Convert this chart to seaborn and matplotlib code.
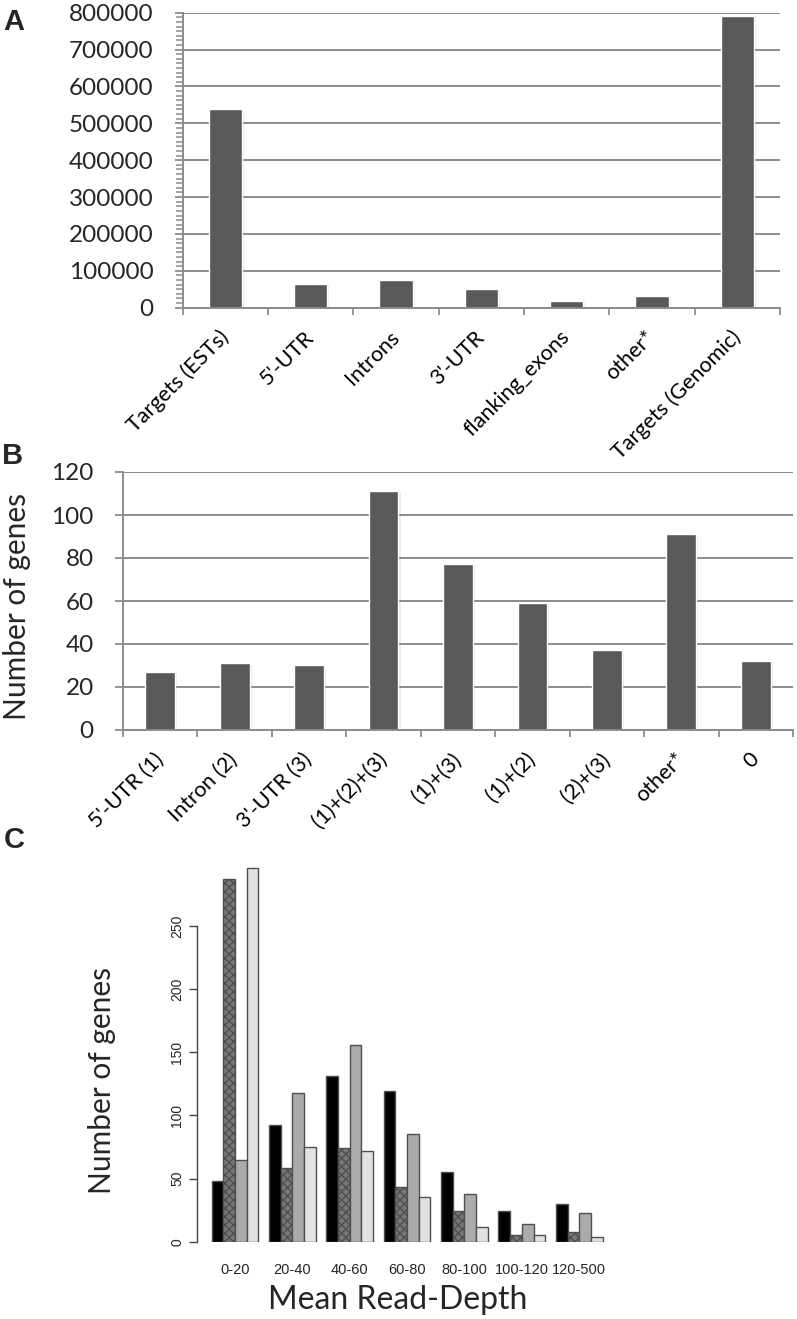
import matplotlib
matplotlib.use("Agg")
import matplotlib.pyplot as plt
import matplotlib.patheffects as pe
from matplotlib.ticker import AutoMinorLocator, FixedLocator
from matplotlib.transforms import ScaledTranslation
import pandas as pd
import seaborn as sns

# panel A: reads mapped per region
regions_a = ["Targets (ESTs)", "5'-UTR", "Introns", "3'-UTR", "flanking_exons", "other*", "Targets (Genomic)"]
reads_a = [538000, 65000, 74000, 51000, 19000, 33000, 791000]

# panel B: genes by covered region combination
combos_b = ["5'-UTR (1)", "Intron (2)", "3'-UTR (3)", "(1)+(2)+(3)", "(1)+(3)", "(1)+(2)", "(2)+(3)", "other*", "0"]
genes_b = [27, 31, 30, 111, 77, 59, 37, 91, 32]

# panel C: genes per mean read-depth bin, four series
depth_bins = ["0-20", "20-40", "40-60", "60-80", "80-100", "100-120", "120-500"]
series_names = ["series 1", "series 2", "series 3", "series 4"]
series_1 = [48, 92, 131, 119, 55, 24, 30]
series_2 = [287, 58, 74, 43, 24, 5, 8]
series_3 = [65, 118, 156, 85, 38, 14, 23]
series_4 = [296, 75, 72, 35, 12, 5, 4]

W, H = 797, 1319
sns.set_theme(style="white")
plt.rcParams["font.family"] = ["Lato", "DejaVu Sans"]

fig = plt.figure(figsize=(W / 100, H / 100), dpi=100)


def px_axes(left, top, right, bottom):
    return fig.add_axes([left / W, 1 - bottom / H, (right - left) / W, (bottom - top) / H])


GRID = "#8c8c8c"
BAR = "#595959"
shadow = [pe.SimplePatchShadow(offset=(1.5, -1), alpha=0.15, shadow_rgbFace="#777777"), pe.Normal()]


def excel_style(ax, n, ymax, labels):
    ax.set_xlim(-0.5, n - 0.5)
    ax.set_ylim(0, ymax)
    ax.yaxis.grid(True, color=GRID, lw=1.4)
    ax.xaxis.grid(False)
    ax.set_axisbelow(True)
    for s in ["top", "right"]:
        ax.spines[s].set_visible(False)
    for s in ["left", "bottom"]:
        ax.spines[s].set_color(GRID)
        ax.spines[s].set_linewidth(1.4)
    ax.set_xlabel("")
    ax.set_ylabel("")
    ax.set_xticks(range(n))
    ax.set_xticklabels(labels, rotation=45, ha="right", va="center", rotation_mode="anchor")
    shift = ScaledTranslation(-7 / 72, 0, fig.dpi_scale_trans)
    for lab in ax.get_xticklabels():
        lab.set_transform(lab.get_transform() + shift)
    ax.xaxis.set_minor_locator(FixedLocator([i - 0.5 for i in range(n + 1)]))
    ax.tick_params(axis="x", which="major", length=0, pad=19, labelsize=15.5, colors="black")
    ax.tick_params(axis="x", which="minor", length=5, width=1.3, color=GRID, bottom=True)
    ax.tick_params(axis="y", which="major", length=6, width=1.3, color=GRID, left=True, labelsize=17.5, pad=15)
    for p in ax.patches:
        p.set_path_effects(shadow)


# ---- A
ax_a = px_axes(182.7, 12.7, 780, 307.7)
df_a = pd.DataFrame({"region": regions_a, "reads": reads_a})
sns.barplot(data=df_a, x="region", y="reads", color=BAR, saturation=1, width=0.39, ax=ax_a)
excel_style(ax_a, len(regions_a), 800000, regions_a)
ax_a.set_yticks(range(0, 800001, 100000))
ax_a.yaxis.set_minor_locator(AutoMinorLocator(8))
ax_a.tick_params(axis="y", which="minor", length=5, width=1.1, color=GRID, left=True)

# ---- B
ax_b = px_axes(123, 472, 793, 730)
df_b = pd.DataFrame({"combo": combos_b, "genes": genes_b})
sns.barplot(data=df_b, x="combo", y="genes", color=BAR, saturation=1, width=0.4, ax=ax_b)
excel_style(ax_b, len(combos_b), 120, combos_b)
ax_b.set_yticks(range(0, 121, 20))

fig.text(17 / W, 1 - 606 / H, "Number of genes", rotation=90, ha="center", va="center", fontsize=21.5)

# ---- C
ax_c = px_axes(196.7, 850, 780, 1241.7)
df_c = pd.DataFrame({"depth": depth_bins * 4,
                     "series": [s for s in series_names for _ in depth_bins],
                     "genes": series_1 + series_2 + series_3 + series_4})
sns.barplot(data=df_c, x="depth", y="genes", hue="series", hue_order=series_names,
            palette=["#000000", "#777777", "#ababab", "#e2e2e2"], saturation=1,
            width=0.815, edgecolor="#4f4f4f", linewidth=1.0, legend=False, ax=ax_c)
for p in ax_c.containers[1]:
    p.set_hatch("xxxx")
ax_c.set_xlim(-0.668, 9.5)
ax_c.set_ylim(0, 310)
ax_c.set_yticks(range(0, 251, 50))
ax_c.set_yticklabels([str(v) for v in range(0, 251, 50)], rotation=90, va="center",
                     family=["Liberation Sans", "DejaVu Sans"])
ax_c.set_xticks(range(len(depth_bins)))
ax_c.set_xticklabels(depth_bins, family=["Liberation Sans", "DejaVu Sans"])
for s in ["top", "right", "bottom"]:
    ax_c.spines[s].set_visible(False)
ax_c.spines["left"].set_bounds(0, 250)
ax_c.spines["left"].set_color("#444444")
ax_c.spines["left"].set_linewidth(1.0)
ax_c.tick_params(axis="y", length=6, width=1.0, color="#444444", left=True, labelsize=10, pad=3)
ax_c.tick_params(axis="x", length=0, labelsize=10.5, pad=15)
ax_c.set_xlabel("")
ax_c.set_ylabel("")
ax_c.grid(False)

fig.text(102 / W, 1 - 1080 / H, "Number of genes", rotation=90, ha="center", va="center", fontsize=21.5)
fig.text(398 / W, 1 - 1300 / H, "Mean Read-Depth", ha="center", va="center", fontsize=23)

# panel letters
for letter, x, y in [("A", 3, 22), ("B", 2, 456), ("C", 4, 840)]:
    fig.text(x / W, 1 - y / H, letter, fontsize=21, fontweight="bold", ha="left", va="center",
             family=["Liberation Sans", "DejaVu Sans"])

fig.savefig("out.png", dpi=100)
